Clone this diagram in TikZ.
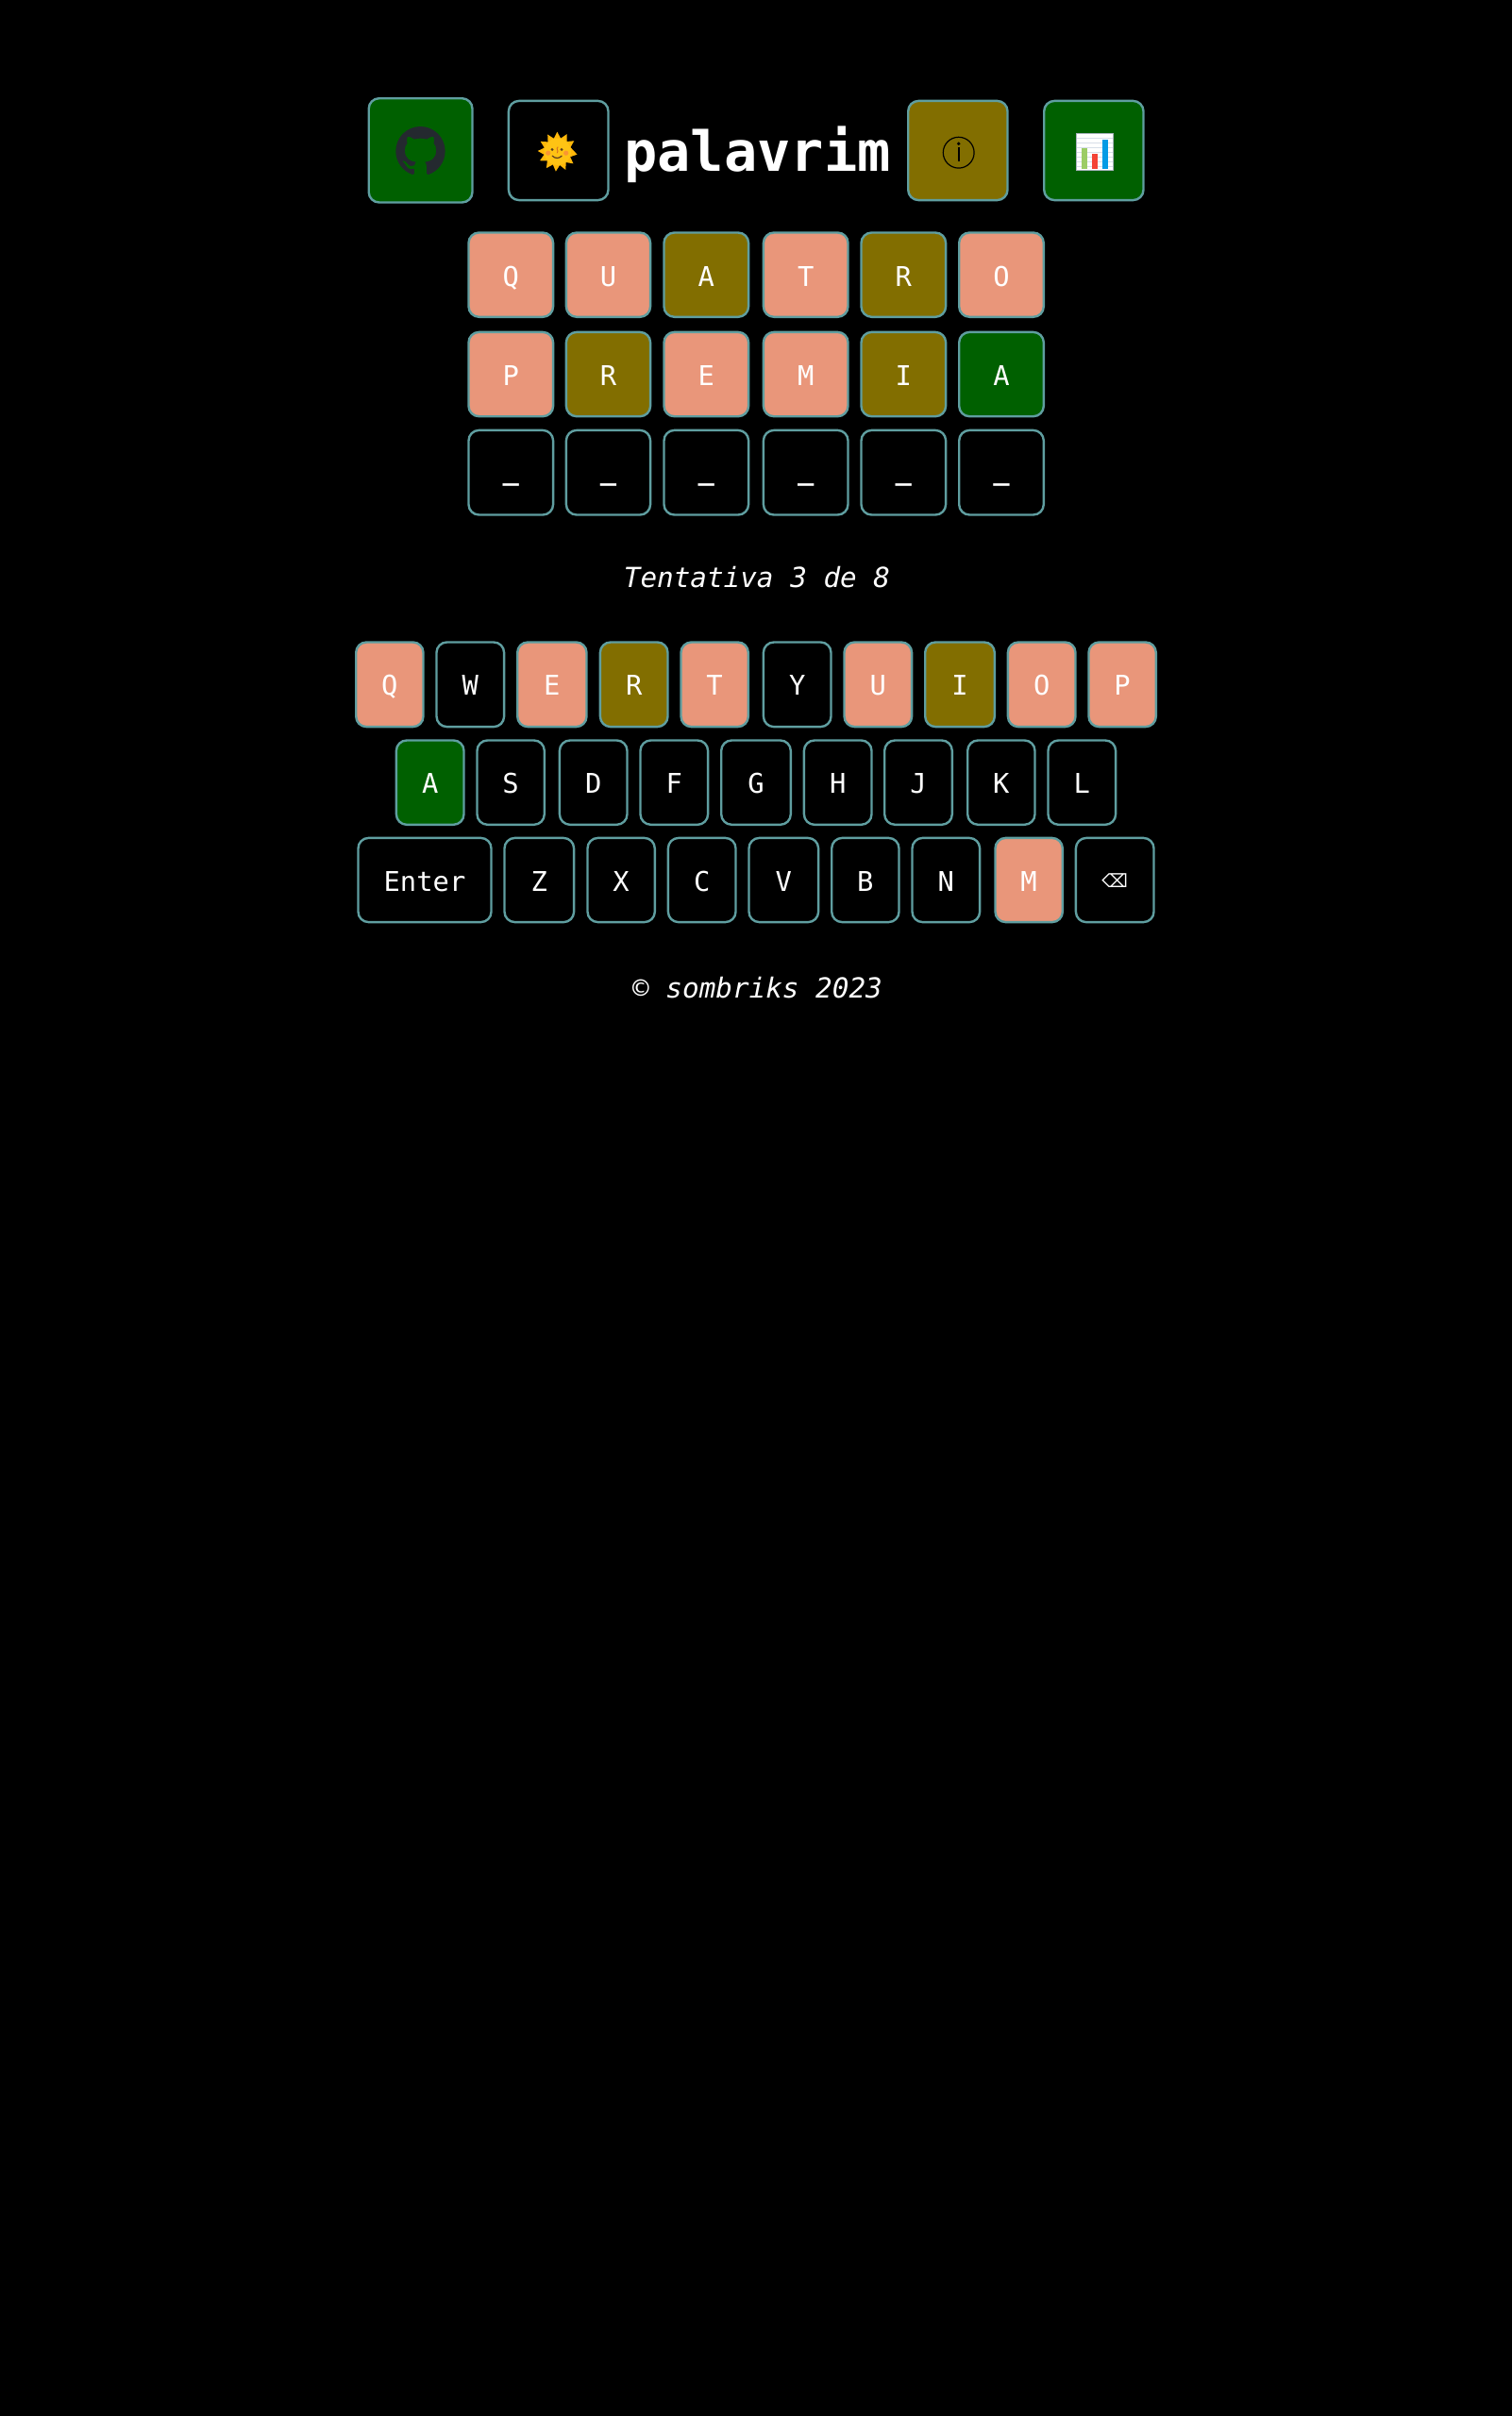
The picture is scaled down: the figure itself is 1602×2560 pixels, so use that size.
\documentclass[tikz,border=0pt]{standalone}
\usepackage{fontspec}
\usetikzlibrary{svg.path}
\setmainfont{DejaVu Sans Mono}
\newfontfamily\symfont{DejaVu Sans}
\definecolor{bd}{HTML}{5F9EA0}
\definecolor{sal}{HTML}{E9967A}
\definecolor{oli}{HTML}{826E00}
\definecolor{grn}{HTML}{006000}
\definecolor{gh}{HTML}{24292F}
\tikzset{
  keybox/.style={draw=bd,line width=2.4pt,rounded corners=11pt,inner sep=0pt,outer sep=0pt,text=white,align=center,
    font=\fontsize{28.8}{30}\selectfont},
  slanted text/.style={anchor=base,text=white,inner sep=0pt,font=\fontsize{29.3}{30}\selectfont\itshape},
}
% name, x1, y1, x2, y2, fill, baseline, text
\newcommand\tecla[8]{%
  \pgfmathsetmacro\cx{(#2+#4)/2}%
  \pgfmathsetmacro\cy{(#3+#5)/2}%
  \pgfmathsetmacro\kw{#4-#2-2.4}%
  \pgfmathsetmacro\kh{#5-#3-2.4}%
  \pgfmathsetmacro\th{#7-#3-1.2}%
  \pgfmathsetmacro\td{#5-1.2-#7}%
  \node[keybox,fill=#6,minimum width=\kw pt,minimum height=\kh pt,text height=\th pt,text depth=\td pt] (#1) at (\cx,\cy) {#8};%
}
\newcommand\traco{{\bfseries\_}}
\begin{document}
\begin{tikzpicture}[x=1pt,y=-1pt]
\path[fill=black,use as bounding box] (0,0) rectangle (1602,2560);
% header buttons
\tecla{github}{389.5}{103}{501.7}{215.7}{grn}{180}{}
\tecla{tema}{537.7}{105.7}{645.7}{213.3}{black}{180}{}
\tecla{info}{961}{105.7}{1068.7}{213.3}{oli}{176}{}
\tecla{stats}{1105}{105.7}{1212.7}{213.3}{grn}{180}{}
\node[anchor=base,text=white,inner sep=0pt,font=\fontsize{58.6}{60}\selectfont\bfseries] (titulo) at (802.5,181.7) {palavrim};
% info symbol
\draw[black,line width=1.2pt] (1015.7,161.7) circle (16.4);
\fill[black] (1015.7,152.3) circle (1.9);
\fill[black] (1014.5,156) rectangle (1016.9,171);
% github mark
\begin{scope}[shift={(419.3,134)},x=1pt,y=1pt,yscale=-1,scale=3.27]
\fill[gh] svg {M 8 0 C 3.58 0 0 3.58 0 8 c 0 3.54 2.29 6.53 5.47 7.59 .4 .07 .55 -.17 .55 -.38 0 -.19 -.01 -.82 -.01 -1.49 -2.01 .37 -2.53 -.49 -2.69 -.94 -.09 -.23 -.48 -.94 -.82 -1.13 -.28 -.15 -.68 -.52 -.01 -.53 .63 -.01 1.08 .58 1.23 .82 .72 1.21 1.87 .87 2.33 .66 .07 -.52 .28 -.87 .51 -1.07 -1.78 -.2 -3.64 -.89 -3.64 -3.95 0 -.87 .31 -1.59 .82 -2.15 -.08 -.2 -.36 -1.02 .08 -2.12 0 0 .67 -.21 2.2 .82 .64 -.18 1.32 -.27 2 -.27 .68 0 1.36 .09 2 .27 1.53 -1.04 2.2 -.82 2.2 -.82 .44 1.1 .16 1.92 .08 2.12 .51 .56 .82 1.27 .82 2.15 0 3.07 -1.87 3.75 -3.65 3.95 .29 .25 .54 .73 .54 1.48 0 1.07 -.01 1.93 -.01 2.2 0 .21 .15 .46 .55 .38 C 13.71 14.53 16 11.54 16 8 C 16 3.58 12.42 0 8 0 z};
\end{scope}
% sun with face
\begin{scope}[shift={(590.7,160.7)}]
\fill[color={rgb,255:red,255;green,184;blue,10}] (8:21) \foreach \a in {8,37,...,340}{ -- (\a:21) -- (\a+14.5:14.5)} -- cycle;
\fill[color={rgb,255:red,255;green,195;blue,20}] (0,0) circle (14.2);
\fill[color={rgb,255:red,250;green,150;blue,50}] (-10,1.5) circle (2.6);
\fill[color={rgb,255:red,250;green,150;blue,50}] (9,1.5) circle (2.6);
\fill[color={rgb,255:red,90;green,60;blue,30}] (-5.7,-2.3) circle (1.6);
\fill[color={rgb,255:red,90;green,60;blue,30}] (4.3,-2.3) circle (1.6);
\draw[color={rgb,255:red,215;green,110;blue,30},line width=.9pt] (0.5,-5) .. controls (-2.5,-3) and (2,-1) .. (-0.5,1.5);
\draw[color={rgb,255:red,90;green,60;blue,30},line width=1.2pt,line cap=round] (-5.5,4.5) .. controls (-2.5,7.5) and (1.5,7.5) .. (4.5,4.5);
\end{scope}
% chart
\fill[white] (1140,141) rectangle (1180,180.7);
\foreach \yy in {146,151,156,161,166,171,176}{\draw[color={rgb,255:red,215;green,222;blue,232},line width=.8pt] (1141,\yy) -- (1179,\yy);}
\draw[color={rgb,255:red,170;green,180;blue,190},line width=.8pt] (1140.4,141.4) rectangle (1179.6,180.3);
\fill[color={rgb,255:red,156;green,204;blue,101}] (1146,157.3) rectangle (1152,179.3);
\fill[color={rgb,255:red,244;green,67;blue,54}] (1157,163.3) rectangle (1163,179.3);
\fill[color={rgb,255:red,3;green,155;blue,229}] (1168,147.7) rectangle (1174,179.3);
% board
\def\ba{245.3}\def\bb{337}\def\bc{303}
\tecla{a1}{495.3}{\ba}{587.3}{\bb}{sal}{\bc}{Q}
\tecla{a2}{598.7}{\ba}{690.3}{\bb}{sal}{\bc}{U}
\tecla{a3}{702.3}{\ba}{794.3}{\bb}{oli}{\bc}{A}
\tecla{a4}{807.7}{\ba}{899.7}{\bb}{sal}{\bc}{T}
\tecla{a5}{911.3}{\ba}{1003.3}{\bb}{oli}{\bc}{R}
\tecla{a6}{1015}{\ba}{1107}{\bb}{sal}{\bc}{O}
\def\ba{350.7}\def\bb{442.4}\def\bc{408}
\tecla{b1}{495.3}{\ba}{587.3}{\bb}{sal}{\bc}{P}
\tecla{b2}{598.7}{\ba}{690.3}{\bb}{oli}{\bc}{R}
\tecla{b3}{702.3}{\ba}{794.3}{\bb}{sal}{\bc}{E}
\tecla{b4}{807.7}{\ba}{899.7}{\bb}{sal}{\bc}{M}
\tecla{b5}{911.3}{\ba}{1003.3}{\bb}{oli}{\bc}{I}
\tecla{b6}{1015}{\ba}{1107}{\bb}{grn}{\bc}{A}
\def\ba{454.7}\def\bb{546.7}\def\bc{508.5}
\tecla{c1}{495.3}{\ba}{587.3}{\bb}{black}{\bc}{\traco}
\tecla{c2}{598.7}{\ba}{690.3}{\bb}{black}{\bc}{\traco}
\tecla{c3}{702.3}{\ba}{794.3}{\bb}{black}{\bc}{\traco}
\tecla{c4}{807.7}{\ba}{899.7}{\bb}{black}{\bc}{\traco}
\tecla{c5}{911.3}{\ba}{1003.3}{\bb}{black}{\bc}{\traco}
\tecla{c6}{1015}{\ba}{1107}{\bb}{black}{\bc}{\traco}
\node[slanted text] (tentativa) at (802,622.7) {Tentativa 3 de 8};
% keyboard
\def\ba{679.3}\def\bb{771.3}\def\bc{736}
\tecla{kq}{376}{\ba}{449.7}{\bb}{sal}{\bc}{Q}
\tecla{kw}{461.3}{\ba}{535.3}{\bb}{black}{\bc}{W}
\tecla{ke}{547}{\ba}{622.7}{\bb}{sal}{\bc}{E}
\tecla{kr}{634.7}{\ba}{708.7}{\bb}{oli}{\bc}{R}
\tecla{kt}{720.3}{\ba}{794}{\bb}{sal}{\bc}{T}
\tecla{ky}{807.7}{\ba}{881.7}{\bb}{black}{\bc}{Y}
\tecla{ku}{893.3}{\ba}{967.3}{\bb}{sal}{\bc}{U}
\tecla{ki}{979}{\ba}{1055}{\bb}{oli}{\bc}{I}
\tecla{ko}{1066.7}{\ba}{1140.7}{\bb}{sal}{\bc}{O}
\tecla{kp}{1152.3}{\ba}{1226}{\bb}{sal}{\bc}{P}
\def\ba{783.3}\def\bb{875}\def\bc{840}
\tecla{ka}{418.7}{\ba}{492.7}{\bb}{grn}{\bc}{A}
\tecla{ks}{504.3}{\ba}{578}{\bb}{black}{\bc}{S}
\tecla{kd}{591.7}{\ba}{665.7}{\bb}{black}{\bc}{D}
\tecla{kf}{677.3}{\ba}{751.3}{\bb}{black}{\bc}{F}
\tecla{kg}{763}{\ba}{839}{\bb}{black}{\bc}{G}
\tecla{kh}{850.7}{\ba}{924.7}{\bb}{black}{\bc}{H}
\tecla{kj}{936}{\ba}{1010}{\bb}{black}{\bc}{J}
\tecla{kk}{1024}{\ba}{1097.7}{\bb}{black}{\bc}{K}
\tecla{kl}{1109.3}{\ba}{1183.3}{\bb}{black}{\bc}{L}
\def\ba{886.7}\def\bb{978.3}\def\bc{944}
\tecla{kenter}{378.3}{\ba}{521.7}{\bb}{black}{\bc}{Enter}
\tecla{kz}{533.3}{\ba}{609.3}{\bb}{black}{\bc}{Z}
\tecla{kx}{621.3}{\ba}{695}{\bb}{black}{\bc}{X}
\tecla{kc}{706.7}{\ba}{780.7}{\bb}{black}{\bc}{C}
\tecla{kv}{792.3}{\ba}{868.3}{\bb}{black}{\bc}{V}
\tecla{kb}{880}{\ba}{953.7}{\bb}{black}{\bc}{B}
\tecla{kn}{965.3}{\ba}{1039.3}{\bb}{black}{\bc}{N}
\tecla{km}{1053.3}{\ba}{1127}{\bb}{sal}{\bc}{M}
\tecla{kback}{1138.7}{\ba}{1223.7}{\bb}{black}{940}{{\symfont\fontsize{19.5}{20}\selectfont ⌫}}
\node[slanted text] (rodape) at (802.5,1057) {© sombriks 2023};
\end{tikzpicture}
\end{document}
